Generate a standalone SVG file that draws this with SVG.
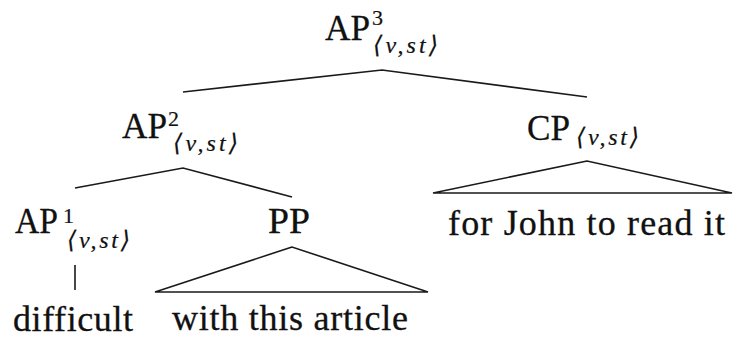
<svg xmlns="http://www.w3.org/2000/svg" width="734" height="339" viewBox="0 0 734 339">
<style>
.lbl{font-family:"Liberation Serif","Times New Roman",serif;font-size:36px;fill:#111111;stroke:#111111;stroke-width:0.3}
.sup{font-family:"Liberation Serif","Times New Roman",serif;font-size:22px;fill:#111111;stroke:#111111;stroke-width:0.2}
.sub{font-family:"Liberation Serif","DejaVu Serif",serif;font-style:italic;font-size:24px;fill:#111111;stroke:#111111;stroke-width:0.2}
.edge{fill:none;stroke:#1a1a1a;stroke-width:1.6;stroke-linejoin:miter}
</style>
<rect width="734" height="339" fill="#ffffff"/>
<g id="connectors">
<polyline class="edge" points="183,92 382,70 587,97"/>
<polyline class="edge" points="75,188 183,168 292,197"/>
<line class="edge" x1="75" y1="265" x2="75" y2="290"/>
<polygon class="edge" points="292,247 155,292 428,292"/>
<polygon class="edge" points="587,161 433,193 732,193"/>
</g>
<g id="AP3">
<text class="lbl" x="325" y="40" textLength="45" lengthAdjust="spacingAndGlyphs">AP</text>
<text class="sup" x="372" y="25">3</text>
<text class="sub" x="373" y="53" textLength="65" lengthAdjust="spacing">⟨v,st⟩</text>
</g>
<g id="AP2">
<text class="lbl" x="122" y="138" textLength="45" lengthAdjust="spacingAndGlyphs">AP</text>
<text class="sup" x="168" y="126">2</text>
<text class="sub" x="173" y="151" textLength="65" lengthAdjust="spacing">⟨v,st⟩</text>
</g>
<g id="CP">
<text class="lbl" x="527" y="140" textLength="43" lengthAdjust="spacingAndGlyphs">CP</text>
<text class="sub" x="576" y="145" textLength="63" lengthAdjust="spacing">⟨v,st⟩</text>
</g>
<g id="AP1">
<text class="lbl" x="15" y="233" textLength="43" lengthAdjust="spacingAndGlyphs">AP</text>
<text class="sup" x="63" y="223">1</text>
<text class="sub" x="67" y="248" textLength="63" lengthAdjust="spacing">⟨v,st⟩</text>
</g>
<g id="PP">
<text class="lbl" x="268" y="233" textLength="42" lengthAdjust="spacingAndGlyphs">PP</text>
</g>
<g id="difficult">
<text class="lbl" x="13" y="331" textLength="120" lengthAdjust="spacing">difficult</text>
</g>
<g id="with-this-article">
<text class="lbl" x="172" y="330" textLength="236" lengthAdjust="spacing">with this article</text>
</g>
<g id="for-John-to-read-it">
<text class="lbl" x="448" y="235" textLength="277" lengthAdjust="spacing">for John to read it</text>
</g>
</svg>
